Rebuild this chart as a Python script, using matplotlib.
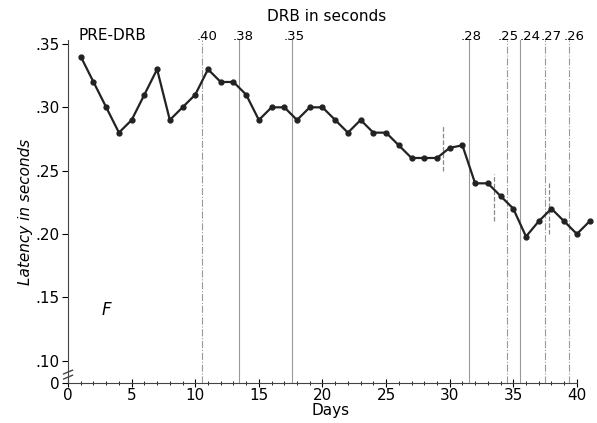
import matplotlib
matplotlib.use("Agg")
import matplotlib.pyplot as plt

# latency per day
days = list(range(1, 42))
latency = [.34, .32, .30, .28, .29, .31, .33, .29, .30, .31,
           .33, .32, .32, .31, .29, .30, .30, .29, .30, .30,
           .29, .28, .29, .28, .28, .27, .26, .26, .26, .268,
           .27, .24, .24, .23, .22, .198, .21, .22, .21, .20, .21]

# DRB changes: day position, label, line style
drb_days = [10.5, 13.4, 17.6, 31.5, 34.5, 35.5, 37.5, 39.4]
drb_labels = [".40", ".38", ".35", ".28", ".25", ".24", ".27", ".26"]
drb_styles = ["-.", "-", "-", "-", "-.", "-", "-.", "-."]

# short dashed markers (day, y from, y to)
short_days = [29.5, 33.5, 37.8]
short_lo = [.25, .21, .20]
short_hi = [.285, .247, .24]

yticks = [.0825, .10, .15, .20, .25, .30, .35]
ytick_labels = ["0", ".10", ".15", ".20", ".25", ".30", ".35"]

fig = plt.figure(figsize=(5.97, 4.23), dpi=100)
ax = fig.add_axes([0.114, 0.095, 0.88, 0.81])
ax.set_xlim(0, 41.3)
ax.set_ylim(0.0825, 0.353)

for d, st in zip(drb_days, drb_styles):
    ax.axvline(d, color="#999999", lw=0.8, ls=st, zorder=1)
for d, lo, hi in zip(short_days, short_lo, short_hi):
    ax.plot([d, d], [lo, hi], color="#888888", lw=0.9, ls="--", zorder=1)

ax.plot(days, latency, color="#222222", lw=1.6, marker="o", ms=3.5,
        clip_on=False, zorder=3)

for sp in ["top", "right"]:
    ax.spines[sp].set_visible(False)
ax.spines["bottom"].set_bounds(0, 40)
ax.spines["left"].set_color("#444444")
ax.spines["bottom"].set_color("#444444")

ax.set_xticks(range(0, 41, 5))
ax.set_xticks(range(0, 41), minor=True)
ax.tick_params(axis="x", which="major", direction="inout", length=6, labelsize=11, pad=1)
ax.tick_params(axis="x", which="minor", direction="inout", length=3)
ax.set_yticks(yticks)
ax.set_yticklabels(ytick_labels)
ax.tick_params(axis="y", direction="out", length=4, labelsize=11, pad=2)

# axis break marks
for yy in (0.087, 0.091):
    ax.plot([-0.35, 0.35], [yy - 0.0015, yy + 0.0015], color="#444444", lw=1,
            clip_on=False)

ax.set_xlabel("Days", fontsize=11, labelpad=0)
ax.set_ylabel("Latency in seconds", fontsize=11, style="italic", labelpad=2)

ax.text(0.8, 0.351, "PRE-DRB", fontsize=11, ha="left", va="bottom")
label_x = [10.9, 13.8, 17.8, 31.7, 34.6, 36.3, 38.0, 39.8]
for lx, lab in zip(label_x, drb_labels):
    ax.text(lx, 0.351, lab, fontsize=9.5, ha="center", va="bottom")
ax.text(20.3, 0.366, "DRB in seconds", fontsize=11, ha="center", va="bottom")
ax.text(3, 0.14, "F", fontsize=12, style="italic", ha="center", va="center")

fig.savefig("out.png", dpi=100, facecolor="white")
